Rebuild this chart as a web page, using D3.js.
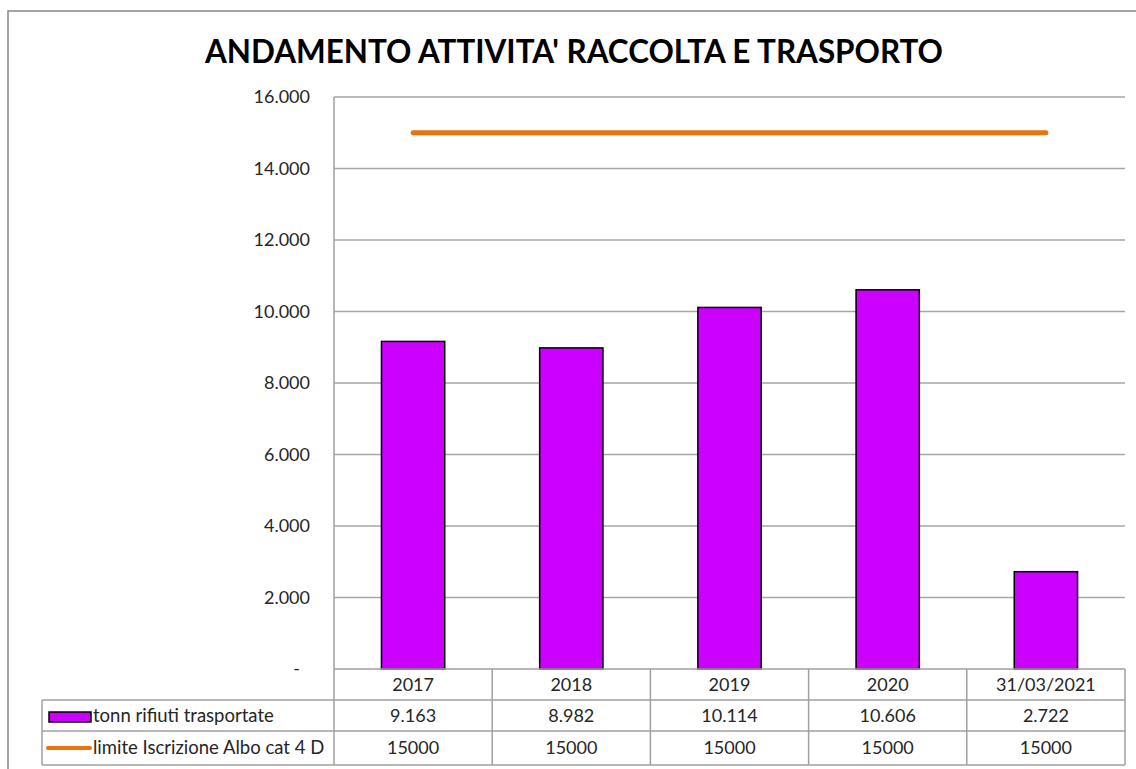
<!DOCTYPE html>
<html>
<head>
<meta charset="utf-8">
<script src="https://cdn.jsdelivr.net/npm/d3@7"></script>
<style>
  body { margin: 0; background: #fff; }
  text { font-family: Lato, "Open Sans", sans-serif; }
</style>
</head>
<body>
<div id="chart"></div>
<script>
// data
var categories = ["2017", "2018", "2019", "2020", "31/03/2021"];
var tonnValues = [9163, 8982, 10114, 10606, 2722];
var limitValues = [15000, 15000, 15000, 15000, 15000];
var yTicks = [0, 2000, 4000, 6000, 8000, 10000, 12000, 14000, 16000];
var seriesNames = ["tonn rifiuti trasportate", "limite Iscrizione Albo cat 4 D"];

var svgWidth = 1136;
var svgHeight = 769;
var plot = { left: 334, right: 1125, top: 97, bottom: 669 };
var rowH = [31, 31, 34];
var tableLeft = 42;
var fontSize = 18;

var it = d3.formatLocale({ decimal: ",", thousands: ".", grouping: [3], currency: ["", "€"] });
var fmt = it.format(",");

var svg = d3.select("#chart")
    .append("svg")
    .attr("width", svgWidth)
    .attr("height", svgHeight);

// outer chart frame
svg.append("rect")
    .attr("x", 8).attr("y", 11)
    .attr("width", 1200).attr("height", 900)
    .attr("fill", "none")
    .attr("stroke", "#878787")
    .attr("stroke-width", 1.5);

// title
svg.append("text")
    .attr("x", 574)
    .attr("y", 63)
    .attr("text-anchor", "middle")
    .attr("font-size", 32)
    .attr("font-weight", "bold")
    .attr("fill", "#000")
    .attr("textLength", 738)
    .attr("lengthAdjust", "spacingAndGlyphs")
    .text("ANDAMENTO ATTIVITA' RACCOLTA E TRASPORTO");

var xScale = d3.scaleBand()
    .domain(categories)
    .range([plot.left, plot.right]);

var yScale = d3.scaleLinear()
    .domain([0, 16000])
    .range([plot.bottom, plot.top]);

// gridlines
svg.append("g")
    .selectAll("line")
    .data(yTicks.filter(d => d > 0))
    .enter()
    .append("line")
    .attr("x1", plot.left)
    .attr("x2", plot.right)
    .attr("y1", d => yScale(d))
    .attr("y2", d => yScale(d))
    .attr("stroke", "#a6a6a6")
    .attr("stroke-width", 1.5);

// y axis
var leftAxis = d3.axisLeft(yScale)
    .tickValues(yTicks)
    .tickSize(0)
    .tickPadding(24)
    .tickFormat(d => d === 0 ? "-" : fmt(d));

var yAxis = svg.append("g")
    .attr("transform", `translate(${plot.left}, 0)`)
    .call(leftAxis);
yAxis.select(".domain").remove();
yAxis.selectAll("text")
    .attr("font-size", fontSize)
    .attr("fill", "#262626")
    .style("font-family", "Lato, 'Open Sans', sans-serif");
yAxis.selectAll(".tick")
    .filter(d => d === 0)
    .select("text")
    .attr("dx", -10);

// bars
var barW = xScale.bandwidth() * 0.4;
svg.append("g")
    .selectAll("rect")
    .data(tonnValues)
    .enter()
    .append("rect")
    .attr("x", (d, i) => xScale(categories[i]) + (xScale.bandwidth() - barW) / 2)
    .attr("y", d => yScale(d))
    .attr("width", barW)
    .attr("height", d => yScale(0) - yScale(d))
    .attr("fill", "#cc00ff")
    .attr("stroke", "#000")
    .attr("stroke-width", 1.5);

// limit line
var limitLine = d3.line()
    .x((d, i) => xScale(categories[i]) + xScale.bandwidth() / 2)
    .y(d => yScale(d));

svg.append("path")
    .datum(limitValues)
    .attr("d", limitLine)
    .attr("fill", "none")
    .attr("stroke", "#e8730f")
    .attr("stroke-width", 5)
    .attr("stroke-linecap", "round");

// data table
var rowY = [plot.bottom, plot.bottom + rowH[0], plot.bottom + rowH[0] + rowH[1], plot.bottom + rowH[0] + rowH[1] + rowH[2]];
var table = svg.append("g")
    .attr("stroke", "#a0a0a0")
    .attr("stroke-width", 1.5);

table.append("line")
    .attr("x1", plot.left).attr("x2", plot.right)
    .attr("y1", rowY[0]).attr("y2", rowY[0]);
[1, 2, 3].forEach(function(r) {
    table.append("line")
        .attr("x1", tableLeft).attr("x2", plot.right)
        .attr("y1", rowY[r]).attr("y2", rowY[r]);
});
table.append("line")
    .attr("x1", tableLeft).attr("x2", tableLeft)
    .attr("y1", rowY[1]).attr("y2", rowY[3]);
// left axis line continues into the table
table.append("line")
    .attr("x1", plot.left).attr("x2", plot.left)
    .attr("y1", plot.top).attr("y2", rowY[3]);
table.selectAll(".vcol")
    .data(categories)
    .enter()
    .append("line")
    .attr("x1", d => xScale(d) + xScale.bandwidth())
    .attr("x2", d => xScale(d) + xScale.bandwidth())
    .attr("y1", rowY[0])
    .attr("y2", rowY[3]);

var rows = [
    categories,
    tonnValues.map(d => fmt(d)),
    limitValues.map(d => String(d))
];

rows.forEach(function(row, r) {
    svg.append("g")
        .selectAll("text")
        .data(row)
        .enter()
        .append("text")
        .attr("x", (d, i) => xScale(categories[i]) + xScale.bandwidth() / 2)
        .attr("y", (rowY[r] + rowY[r + 1]) / 2)
        .attr("dy", "0.35em")
        .attr("text-anchor", "middle")
        .attr("font-size", fontSize)
        .attr("fill", "#262626")
        .text(d => d);
});

// legend keys in the table
svg.append("rect")
    .attr("x", 49).attr("y", 712)
    .attr("width", 42).attr("height", 10)
    .attr("fill", "#cc00ff")
    .attr("stroke", "#000")
    .attr("stroke-width", 1.5);

svg.append("line")
    .attr("x1", 48).attr("x2", 90)
    .attr("y1", 748).attr("y2", 748)
    .attr("stroke", "#e8730f")
    .attr("stroke-width", 4)
    .attr("stroke-linecap", "round");

svg.selectAll(".legText")
    .data(seriesNames)
    .enter()
    .append("text")
    .attr("x", 93)
    .attr("y", (d, i) => (rowY[i + 1] + rowY[i + 2]) / 2)
    .attr("dy", "0.35em")
    .attr("font-size", fontSize + 0.5)
    .attr("fill", "#262626")
    .text(d => d);
</script>
</body>
</html>
